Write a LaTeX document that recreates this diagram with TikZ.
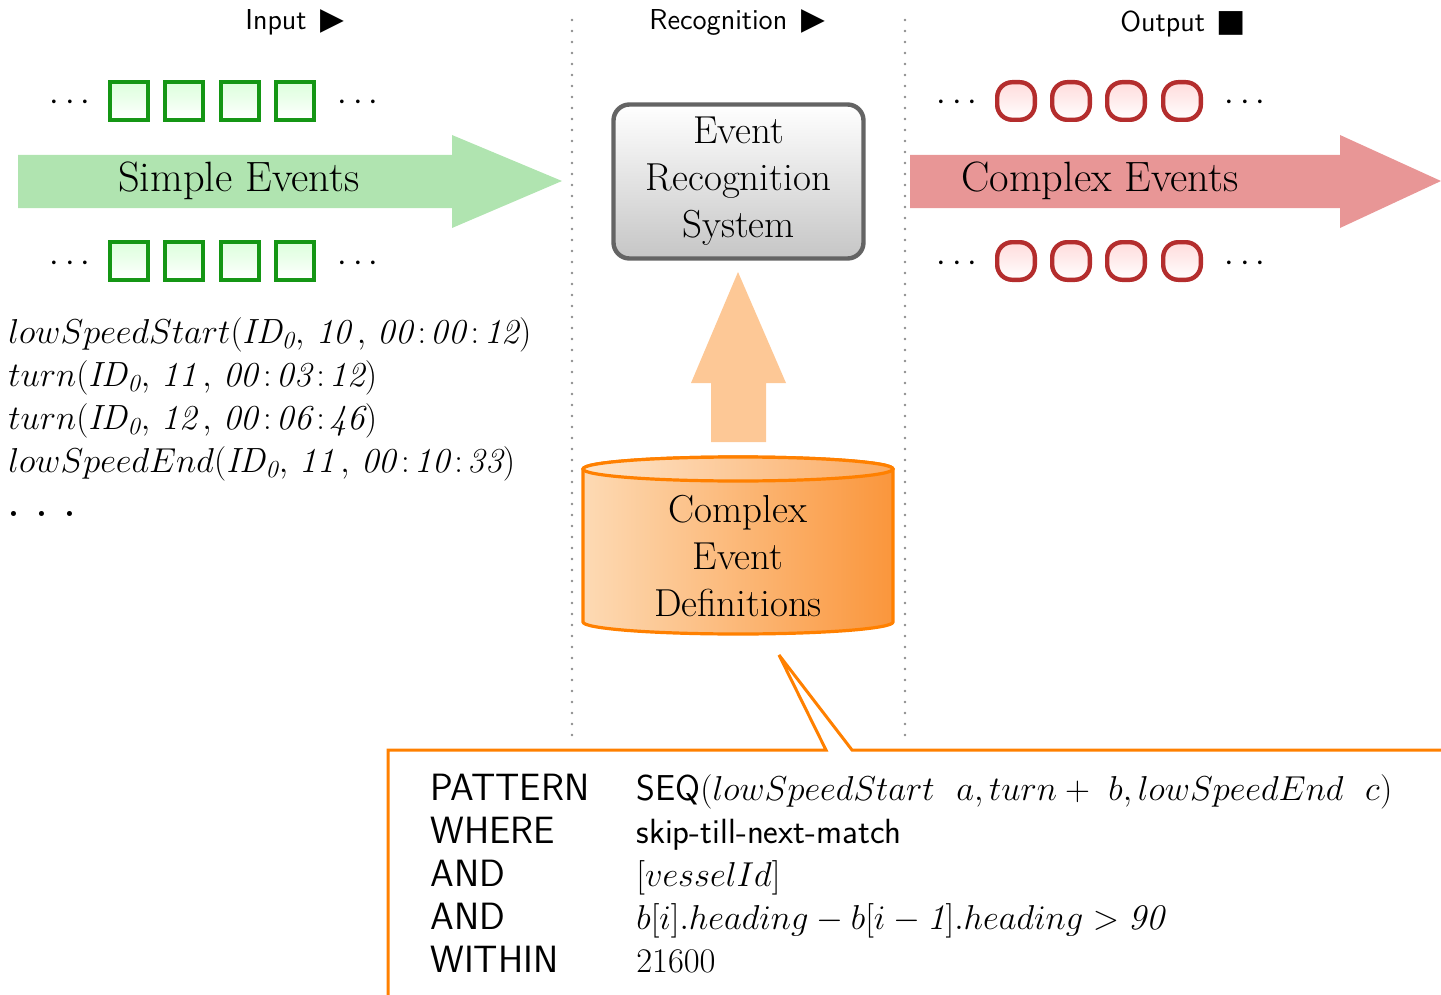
\documentclass[tikz,border=0pt]{standalone}
\usepackage{fontspec}
\newfontfamily\symfont{DejaVu Sans}
\usetikzlibrary{calc}

\definecolor{evgreen}{RGB}{20,150,20}
\definecolor{arrowgreen}{RGB}{176,228,176}
\definecolor{evred}{RGB}{180,45,45}
\definecolor{arrowred}{RGB}{232,150,150}
\definecolor{cedorange}{RGB}{255,128,0}
\definecolor{arroworange}{RGB}{253,200,150}
\definecolor{cedlight}{RGB}{253,218,180}
\definecolor{ceddark}{RGB}{250,150,60}
\definecolor{sepgray}{RGB}{140,140,140}
\definecolor{ersborder}{RGB}{100,100,100}

% spaced timestamp and argument helpers for the event log
\newcommand{\tstamp}[3]{\mathit{#1}\mskip2.5mu{:}\mskip2.5mu\mathit{#2}\mskip2.5mu{:}\mskip2.5mu\mathit{#3}}
\newcommand{\evargs}[4]{(\mathit{ID}_{\mathit{0}},\,\mathit{#1}\,,\,\tstamp{#2}{#3}{#4})}

\begin{document}
\begin{tikzpicture}[x=0.5pt,y=-0.5pt,
  bigfont/.style={font=\fontsize{19.5}{23.5}\selectfont},
  arrowfont/.style={font=\fontsize{21.2}{25}\selectfont},
  toplabel/.style={font=\sffamily\fontsize{14.4}{17}\selectfont, anchor=base west, inner sep=0pt},
  sevent/.style={draw=evgreen, line width=2.2pt, minimum size=18.8pt, inner sep=0pt,
    top color=green!14, bottom color=white},
  cevent/.style={draw=evred, line width=2.2pt, minimum size=18.8pt, inner sep=0pt,
    rounded corners=7.5pt, top color=red!14, bottom color=white},
  dots/.style={font=\fontsize{19}{23}\selectfont, anchor=base, inner sep=0pt},
  sepline/.style={sepgray, line width=1.3pt, line cap=round, dash pattern=on 0pt off 5.5pt},
  ersbox/.style={draw=ersborder, line width=2.2pt, rounded corners=8pt,
    top color=white, bottom color=gray!45, minimum width=125pt, minimum height=77pt,
    align=center, bigfont},
  evline/.style={font=\fontsize{17.5}{21.5}\selectfont, anchor=base west, inner sep=0pt},
  kw/.style={font=\sffamily\fontsize{19}{21.5}\selectfont, anchor=base west, inner sep=0pt},
  body/.style={font=\fontsize{18}{21.5}\selectfont, anchor=base west, inner sep=0pt},
  callout/.style={draw=cedorange, line width=1.5pt, fill=white, line join=miter}
]
\useasboundingbox (0,0) rectangle (1441,995);

% phase separators
\draw[sepline] (572,20) -- (572,745);
\draw[sepline] (905,20) -- (905,745);

% phase labels
\node[toplabel] (lin) at (245,30) {Input\hspace{7pt}{\symfont\fontsize{15.5}{17}\selectfont ▶}};
\node[toplabel] (lrec) at (649,30) {Recognition\hspace{7pt}{\symfont\fontsize{15.5}{17}\selectfont ▶}};
\node[toplabel] (lout) at (1120,32) {Output\hspace{6pt}{\symfont\fontsize{15.5}{17}\selectfont ■}};

% input stream arrow
\fill[arrowgreen] (18,155) -- (452,155) -- (452,135) -- (562,181) -- (452,228) -- (452,208) -- (18,208) -- cycle;
\node[arrowfont] (simple) at (239,181) {Simple Events};

% simple events
\foreach \x [count=\i] in {129,184,240,295} {
  \node[sevent] (st\i) at (\x,101) {};
  \node[sevent] (sb\i) at (\x,261) {};
}
\node[dots] (sdtl) at (70,111) {$\cdots$};
\node[dots] (sdtr) at (358,111) {$\cdots$};
\node[dots] (sdbl) at (70,271) {$\cdots$};
\node[dots] (sdbr) at (358,271) {$\cdots$};

% output stream arrow
\fill[arrowred] (910,155) -- (1340,155) -- (1340,135) -- (1441,181) -- (1340,228) -- (1340,208) -- (910,208) -- cycle;
\node[arrowfont] (complex) at (1100,181) {Complex Events};

% complex events
\foreach \x [count=\i] in {1016,1071,1126,1182} {
  \node[cevent] (ct\i) at (\x,101) {};
  \node[cevent] (cb\i) at (\x,261) {};
}
\node[dots] (cdtl) at (957,111) {$\cdots$};
\node[dots] (cdtr) at (1245,111) {$\cdots$};
\node[dots] (cdbl) at (957,271) {$\cdots$};
\node[dots] (cdbr) at (1245,271) {$\cdots$};

% recognition engine
\node[ersbox] (ers) at (738.5,181.5) {Event\\Recognition\\System};

% definitions store
\path[left color=cedlight, right color=ceddark, draw=cedorange, line width=1.6pt]
  (583,469) -- (583,622) arc[start angle=180, end angle=360, x radius=77.5pt, y radius=6pt]
  -- (893,469) arc[start angle=0, end angle=180, x radius=77.5pt, y radius=6pt] -- cycle;
\path[left color=cedlight!70!white, right color=ceddark!80!white, draw=cedorange, line width=1.6pt]
  (738,469) ellipse[x radius=77.5pt, y radius=6pt];
\node[bigfont, align=center] (ced) at (738,556) {Complex\\Event\\Definitions};

% definitions feed the engine
\coordinate (upbase) at (738,442);
\coordinate (uptip) at (738,272);
\fill[arroworange] ($(upbase)+(-27,0)$) -- ($(upbase)+(-27,-59)$) -- ($(upbase)+(-47,-59)$)
  -- (uptip) -- ($(upbase)+(48,-59)$) -- ($(upbase)+(28,-59)$) -- ($(upbase)+(28,0)$) -- cycle;

% input event log
\node[evline] (e1) at (8,343) {$lowSpeedStart\evargs{10}{00}{00}{12}$};
\node[evline] (e2) at (8,386) {$turn\evargs{11}{00}{03}{12}$};
\node[evline] (e3) at (8,429) {$turn\evargs{12}{00}{06}{46}$};
\node[evline] (e4) at (8,472) {$lowSpeedEnd\evargs{11}{00}{10}{33}$};
\node[evline] (e5) at (8,516) {\textbf{.}\hspace{8.5pt}\textbf{.}\hspace{8.5pt}\textbf{.}};

% pattern callout
\coordinate (ctip) at (779,655);
\draw[callout] (1450,750) -- (852,750) -- (ctip) -- (826,750) -- (388,750) -- (388,1005);

\node[kw] (k1) at (430,800) {PATTERN};
\node[kw] (k2) at (430,843) {WHERE};
\node[kw] (k3) at (430,886) {AND};
\node[kw] (k4) at (430,929) {AND};
\node[kw] (k5) at (430,972) {WITHIN};

\node[body] (v1) at (636,800) {\textsf{SEQ}$(lowSpeedStart\ \ a, turn+\ b, lowSpeedEnd\ \ c)$};
\node[body, font=\sffamily\fontsize{17.5}{21.5}\selectfont] (v2) at (636,843) {skip-till-next-match};
\node[body] (v3) at (636,886) {$[vesselId]$};
\node[body] (v4) at (636,929) {$b[i].heading - b[i - \mathit{1}].heading > \mathit{90}$};
\node[body] (v5) at (636,972) {$21600$};
\end{tikzpicture}
\end{document}
